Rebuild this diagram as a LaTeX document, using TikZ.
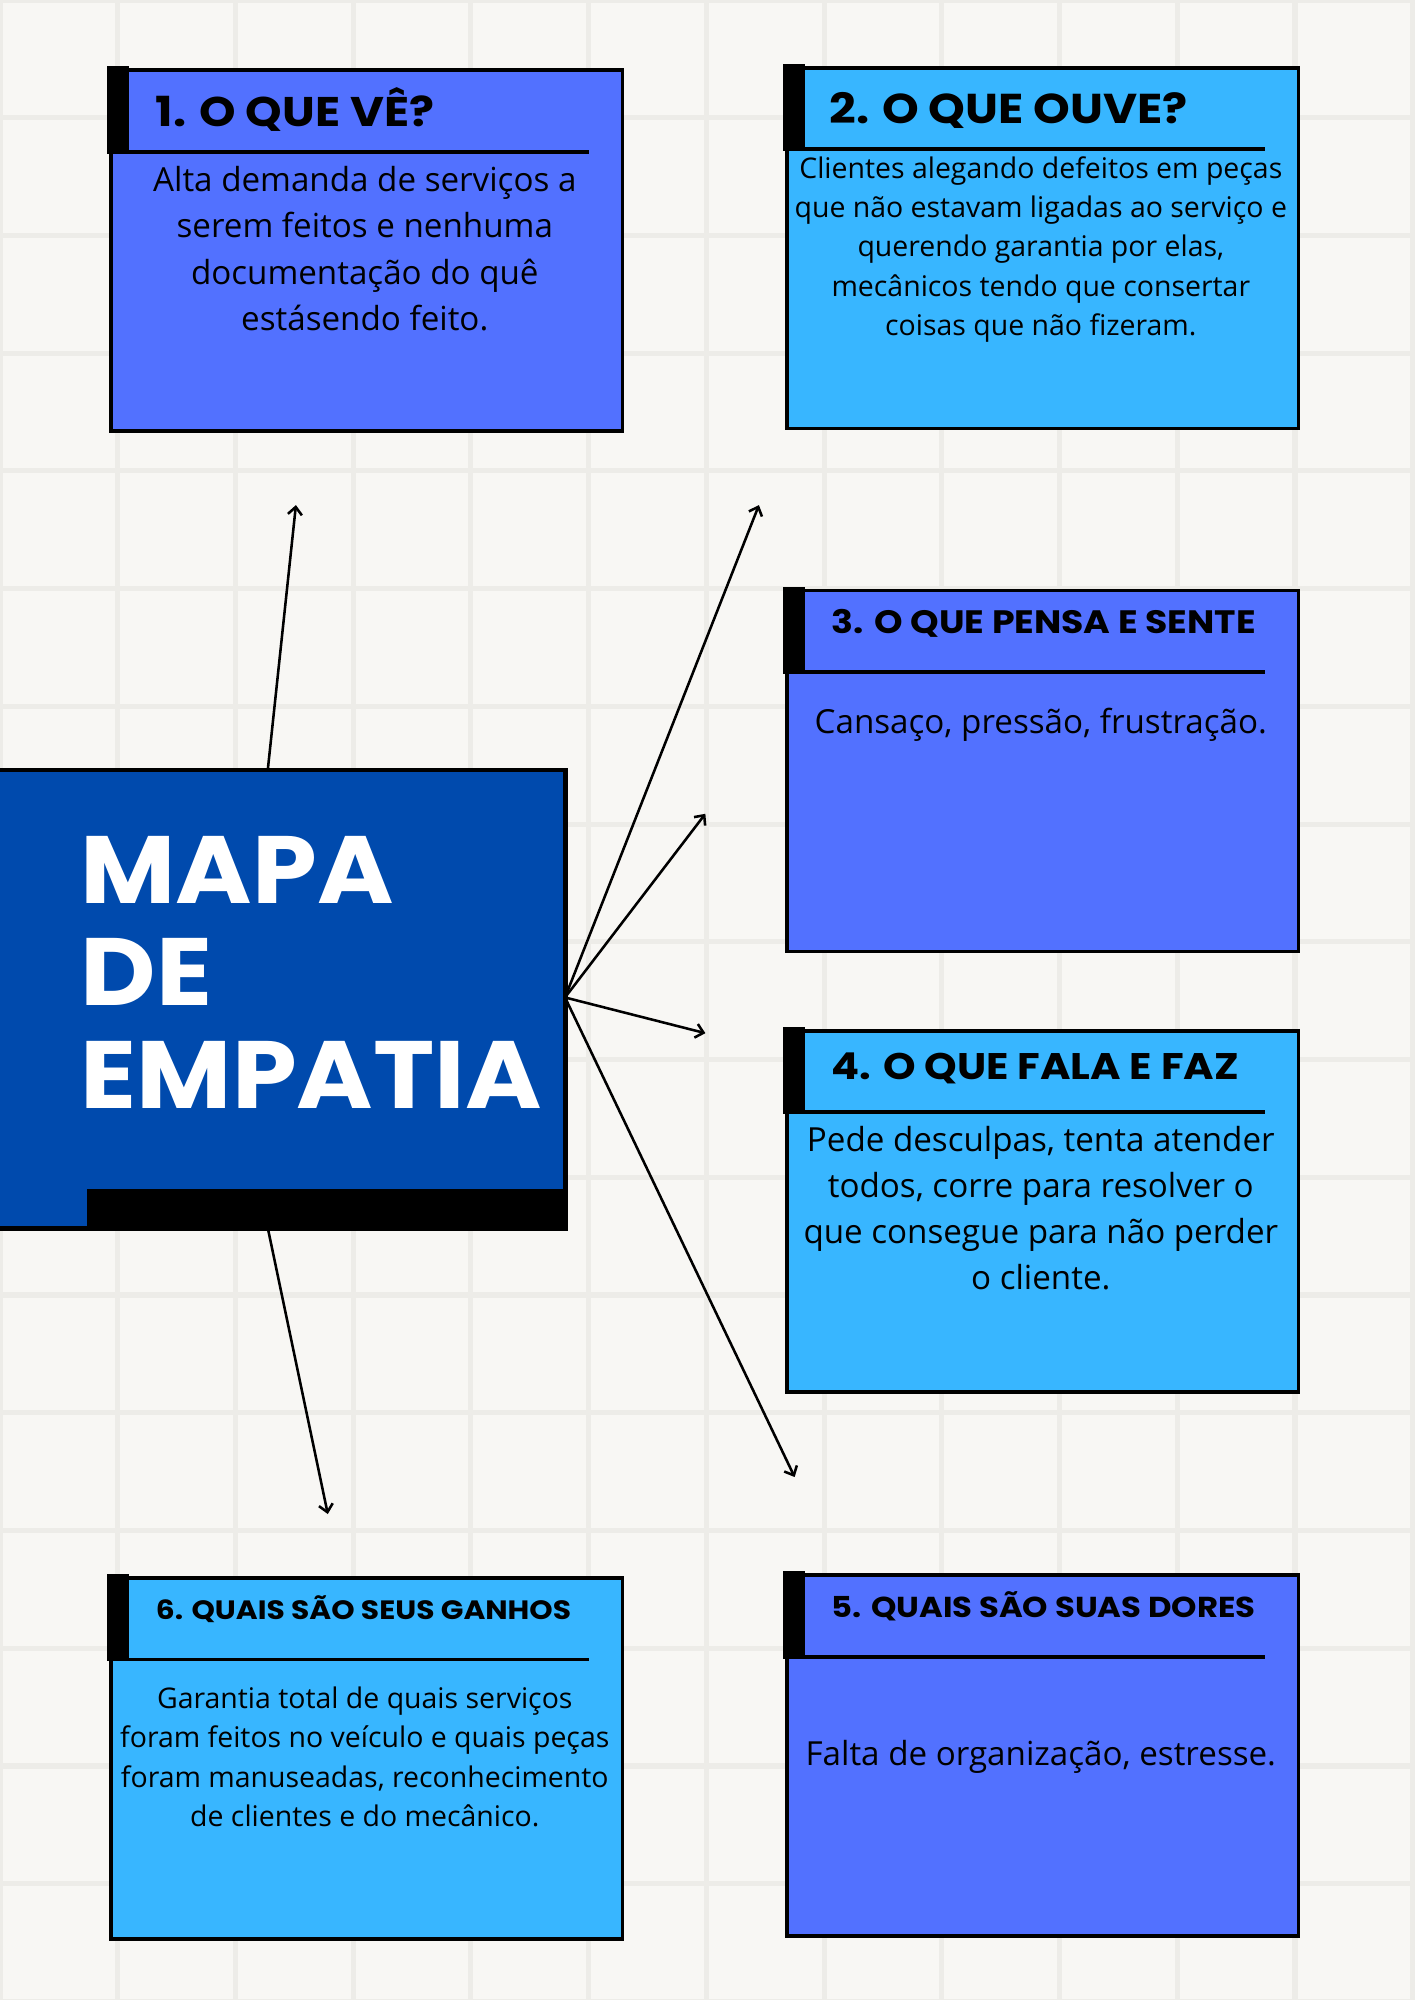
\documentclass[tikz,border=0pt]{standalone}
\usepackage{fontspec}
\setmainfont{Open Sans}
\newfontfamily\headfont{Poppins}[FakeStretch=1.12]
\newfontfamily\titlefont{Poppins}[FakeStretch=1.085]
\usetikzlibrary{arrows.meta,calc}
\definecolor{bgc}{HTML}{F8F7F4}
\definecolor{gridc}{HTML}{EDECE8}
\definecolor{medblue}{HTML}{5271FF}
\definecolor{lightblue}{HTML}{38B6FF}
\definecolor{darkblue}{HTML}{004AAD}
\newcommand\mkcard[4]{%
  \node[cardbox, fill=#4] (#1) at (#2+1.5,#3+1.5) {};
  \fill[black] (#2,#3) rectangle ++(17,67);
  \draw[line width=3pt] (#2,#3+67) -- ++(378,0);
}
\begin{document}
\begin{tikzpicture}[x=1pt,y=-1pt,
  cardbox/.style={draw=black, line width=3pt, minimum width=401pt, minimum height=283pt, inner sep=0pt, anchor=north west},
  headtxt/.style={anchor=base west, inner sep=0pt},
  bodytxt/.style={align=center, inner sep=0pt, anchor=base},
  arr/.style={line width=2pt, -{Straight Barb[length=6pt,width=11pt]}},
]
% background
\fill[bgc] (0,0) rectangle (1109,1568);
\useasboundingbox (0,0) rectangle (1109,1568);
\foreach \k in {0,...,12} \draw[gridc, line width=4pt] (\k*92.3,0) -- (\k*92.3,1568);
\foreach \k in {0,...,17} \draw[gridc, line width=4pt] (0,\k*92.3) -- (1109,\k*92.3);

% coordinates for arrows
\coordinate (a1) at (232,396);
\coordinate (a2) at (595,396);
\coordinate (a3) at (553,638);
\coordinate (a4) at (553,810);
\coordinate (a5) at (623,1158);
\coordinate (a6) at (257,1187);
\coordinate (mtop) at (210,603);
\coordinate (mbot) at (210,963);
\coordinate (mright) at (443,782);

\draw[arr] (mtop) -- (a1);
\draw[arr] (mbot) -- (a6);
\draw[arr] (mright) -- (a2);
\draw[arr] (mright) -- (a3);
\draw[arr] (mright) -- (a4);
\draw[arr] (mright) -- (a5);

% center box
\node[fill=black, minimum width=445pt, minimum height=363pt, inner sep=0pt, anchor=north west] (mapa) at (0,602) {};
\fill[darkblue] (0,605) rectangle (441,932);
\fill[darkblue] (0,932) rectangle (68,961);
\node[font=\titlefont\bfseries\fontsize{75}{80.5}\selectfont, text=white, align=left, anchor=base west, inner sep=0pt] (titulo) at (63,869) {MAPA\\DE\\EMPATIA};

% cards
\mkcard{c1}{84}{52}{medblue}
\mkcard{c2}{614}{50}{lightblue}
\mkcard{c3}{614}{460}{medblue}
\mkcard{c4}{614}{805}{lightblue}
\mkcard{c5}{614}{1232}{medblue}
\mkcard{c6}{84}{1234}{lightblue}

% headers
\node[headtxt, font=\headfont\bfseries\fontsize{32.5}{36}\selectfont] (h1) at (122,99) {1. O QUE VÊ?};
\node[headtxt, font=\headfont\bfseries\fontsize{32.7}{36}\selectfont] (h2) at (650,97) {2. O QUE OUVE?};
\node[headtxt, font=\headfont\bfseries\fontsize{25.4}{28}\selectfont] (h3) at (652,497) {3. O QUE PENSA E SENTE};
\node[headtxt, font=\headfont\bfseries\fontsize{29}{32}\selectfont] (h4) at (652,846) {4. O QUE FALA E FAZ};
\node[headtxt, font=\headfont\bfseries\fontsize{22.6}{26}\selectfont] (h5) at (652,1268) {5. QUAIS SÃO SUAS DORES};
\node[headtxt, font=\headfont\bfseries\fontsize{20.8}{26}\selectfont] (h6) at (122,1270) {6. QUAIS SÃO SEUS GANHOS};

% bodies (anchor = baseline of last line)
\node[bodytxt, font=\fontsize{26}{36.3}\selectfont] (b1) at (286,259) {Alta demanda de serviços a\\serem feitos e nenhuma\\documentação do quê\\estásendo feito.};
\node[bodytxt, font=\fontsize{22.3}{30.8}\selectfont] (b2) at (816,263) {Clientes alegando defeitos em peças\\que não estavam ligadas ao serviço e\\querendo garantia por elas,\\mecânicos tendo que consertar\\coisas que não fizeram.};
\node[bodytxt, font=\fontsize{26}{30}\selectfont] (b3) at (816,575) {Cansaço, pressão, frustração.};
\node[bodytxt, font=\fontsize{26}{36}\selectfont] (b4) at (816,1011) {Pede desculpas, tenta atender\\todos, corre para resolver o\\que consegue para não perder\\o cliente.};
\node[bodytxt, font=\fontsize{26}{30}\selectfont] (b5) at (816,1384) {Falta de organização, estresse.};
\node[bodytxt, font=\fontsize{22.3}{30.8}\selectfont] (b6) at (286,1432) {Garantia total de quais serviços\\foram feitos no veículo e quais peças\\foram manuseadas, reconhecimento\\de clientes e do mecânico.};
\end{tikzpicture}
\end{document}
